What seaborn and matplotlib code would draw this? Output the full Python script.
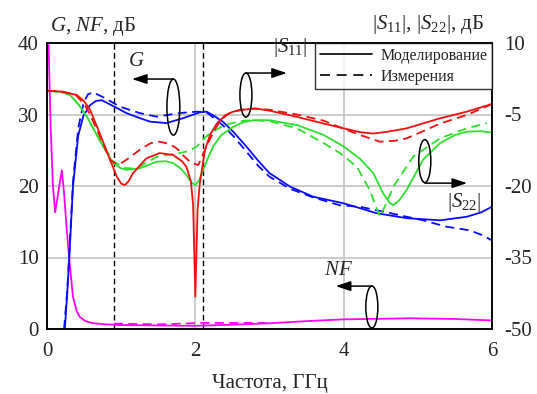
import matplotlib
matplotlib.use("Agg")
import matplotlib.pyplot as plt
from matplotlib.patches import Ellipse
from matplotlib.lines import Line2D
import seaborn as sns

# ---------------- data ----------------
# Gain G, simulated (blue solid), left axis, dB
g_sim_f = [0.24, 0.27, 0.30, 0.35, 0.42, 0.49, 0.58, 0.66, 0.74, 0.87, 1.07, 1.25, 1.39, 1.61,
           1.84, 2.06, 2.15, 2.24, 2.37, 2.51, 2.69, 2.85, 3.00, 3.28, 3.59, 3.99, 4.22, 4.44,
           4.85, 5.30, 5.66, 5.85, 6.00]
g_sim = [0.0, 4.5, 9.9, 19.9, 27.0, 29.8, 31.3, 31.9, 32.0, 31.3, 30.2, 29.5, 29.0, 28.8,
         29.5, 30.3, 30.4, 29.9, 29.0, 27.6, 25.5, 23.5, 21.8, 19.9, 18.5, 17.6, 16.9, 16.2,
         15.5, 15.2, 15.7, 16.3, 17.1]
# Gain G, measured (blue dashed)
g_meas_f = [0.23, 0.27, 0.30, 0.35, 0.42, 0.49, 0.55, 0.62, 0.80, 0.98, 1.25, 1.48, 1.79, 2.02,
            2.15, 2.24, 2.37, 2.51, 2.69, 2.85, 3.00, 3.28, 3.59, 3.95, 4.22, 4.63, 5.07, 5.39,
            5.70, 5.85, 6.00]
g_meas = [0.0, 5.0, 10.5, 20.5, 28.0, 31.5, 32.8, 33.1, 32.2, 31.1, 30.2, 29.7, 30.2, 30.4,
          30.3, 29.6, 28.5, 27.0, 24.8, 22.8, 21.3, 19.6, 18.4, 17.3, 17.1, 16.2, 15.2, 14.3,
          13.8, 13.2, 12.4]
# Noise figure NF, simulated (magenta solid), left axis
nf_sim_f = [0.0, 0.02, 0.05, 0.08, 0.11, 0.15, 0.20, 0.23, 0.27, 0.31, 0.35, 0.40, 0.44, 0.52,
            0.62, 0.80, 1.00, 1.50, 2.00, 2.50, 3.00, 3.50, 4.00, 4.90, 5.50, 6.00]
nf_sim = [46.0, 40.0, 28.0, 20.0, 16.3, 19.0, 22.2, 19.0, 13.4, 8.7, 4.5, 2.5, 1.7, 1.1,
          0.8, 0.65, 0.55, 0.5, 0.45, 0.6, 0.8, 1.1, 1.35, 1.5, 1.4, 1.2]
# Noise figure NF, measured (magenta dashed)
nf_meas_f = [0.90, 1.20, 1.50, 1.80, 2.10, 2.50, 3.00]
nf_meas = [0.75, 0.7, 0.65, 0.75, 0.85, 0.85, 0.85]
# |S11|, simulated (red solid), right axis
s11_sim_f = [0.0, 0.20, 0.40, 0.50, 0.58, 0.71, 0.85, 0.94, 1.00, 1.05, 1.10, 1.16, 1.34, 1.52,
             1.70, 1.82, 1.88, 1.94, 1.97, 2.00, 2.03, 2.06, 2.13, 2.20, 2.29, 2.40, 2.51, 2.65,
             2.80, 3.00, 3.37, 3.73, 4.00, 4.22, 4.40, 4.60, 4.85, 5.30, 5.66, 6.00]
s11_sim = [0.0, -0.2, -0.9, -2.2, -4.0, -8.9, -14.5, -18.0, -19.5, -19.8, -19.0, -17.3, -14.2, -13.1,
           -13.5, -14.8, -16.0, -19.0, -24.0, -43.2, -25.0, -19.5, -12.4, -9.2, -6.9, -5.2, -4.4, -4.0,
           -3.7, -4.2, -5.5, -6.9, -7.9, -8.7, -9.0, -8.6, -7.9, -5.8, -4.4, -2.8]
# |S11|, measured (red dashed)
s11_meas_f = [0.0, 0.20, 0.38, 0.50, 0.58, 0.71, 0.85, 0.92, 0.98, 1.10, 1.25, 1.40, 1.52, 1.65,
              1.75, 1.85, 1.95, 2.04, 2.10, 2.15, 2.25, 2.34, 2.45, 2.60, 2.80, 3.00, 3.37, 3.73,
              4.00, 4.22, 4.49, 4.70, 4.85, 5.07, 5.30, 5.66, 6.00]
s11_meas = [0.0, -0.2, -0.8, -2.8, -5.0, -9.5, -14.5, -15.2, -15.4, -14.2, -12.4, -11.0, -10.7, -11.2,
            -12.1, -13.8, -15.2, -15.6, -13.5, -11.7, -8.5, -6.2, -4.8, -4.0, -3.8, -4.0, -5.0, -6.3,
            -8.0, -9.3, -10.7, -10.5, -10.0, -8.5, -6.9, -5.1, -2.8]
# |S22|, simulated (green solid), right axis
s22_sim_f = [0.0, 0.20, 0.31, 0.42, 0.54, 0.71, 0.89, 1.00, 1.07, 1.25, 1.48, 1.60, 1.70, 1.80,
             1.88, 1.95, 2.00, 2.05, 2.09, 2.16, 2.24, 2.35, 2.51, 2.65, 2.78, 3.00, 3.37, 3.73,
             4.00, 4.22, 4.40, 4.53, 4.62, 4.67, 4.75, 4.85, 5.07, 5.30, 5.50, 5.66, 5.85, 6.00]
s22_sim = [0.0, -0.3, -0.9, -2.8, -5.5, -10.4, -15.2, -16.3, -16.6, -16.3, -14.9, -14.8, -15.2, -16.3,
           -17.7, -19.3, -19.8, -18.8, -17.3, -14.5, -11.7, -9.3, -7.6, -6.6, -6.2, -6.2, -7.2, -9.3,
           -11.7, -14.3, -17.3, -21.5, -23.5, -24.0, -23.0, -20.8, -14.5, -11.0, -9.3, -8.6, -8.5, -8.8]
# |S22|, measured (green dashed)
s22_meas_f = [0.0, 0.20, 0.31, 0.42, 0.54, 0.71, 0.89, 1.05, 1.20, 1.35, 1.48, 1.65, 1.79, 1.92,
              2.02, 2.10, 2.20, 2.35, 2.47, 2.65, 2.78, 3.00, 3.37, 3.73, 3.95, 4.18, 4.35, 4.44,
              4.49, 4.58, 4.67, 4.94, 5.30, 5.66, 5.93]
s22_meas = [0.0, -0.3, -0.9, -2.8, -5.5, -10.4, -14.8, -16.2, -16.4, -15.0, -13.9, -13.4, -13.1, -12.6,
            -11.7, -10.3, -8.9, -7.6, -6.9, -6.3, -6.2, -6.4, -7.9, -11.0, -13.1, -16.0, -20.8, -24.5,
            -26.4, -23.5, -20.1, -13.8, -10.0, -7.9, -6.8]
# band edges (vertical dashed markers), GHz
band_edges = [0.91, 2.11]

x_ticks = [0, 2, 4, 6]
left_ticks = [0, 10, 20, 30, 40]
right_ticks = [-50, -35, -20, -5, 10]

legend_labels = ["Моделирование", "Измерения"]

# ---------------- style ----------------
sns.set_style("white")
plt.rcParams["font.family"] = ["Liberation Serif", "DejaVu Serif"]
plt.rcParams["mathtext.fontset"] = "custom"
plt.rcParams["mathtext.rm"] = "Liberation Serif"
plt.rcParams["mathtext.it"] = "Liberation Serif:italic"
plt.rcParams["mathtext.bf"] = "Liberation Serif:bold"
plt.rcParams["axes.unicode_minus"] = False

BLUE = "#0a0aff"
RED = "#f01010"
GREEN = "#2ee02e"
MAGENTA = "#ff00ff"
LW = 1.3
DASH = (5, 3)
FS = 15

fig = plt.figure(figsize=(5.37, 3.94), dpi=100)
ax = fig.add_axes([47 / 537, 1 - 329 / 394, 445 / 537, 286 / 394])
ax2 = ax.twinx()
ax2.patch.set_visible(False)

# grid (left axis)
ax.set_xlim(0, 6)
ax.set_ylim(0, 40)
ax.set_xticks(x_ticks)
ax.set_yticks(left_ticks)
ax.grid(True, color="#c4c4c4", lw=1.2)
ax.set_axisbelow(True)

for xe in band_edges:
    ax.axvline(xe, color="black", lw=1.0, dashes=(4, 2.5))

def draw(a, xs, ys, color, dashed):
    kw = dict(color=color, lw=LW, ax=a, estimator=None, sort=False, legend=False)
    line = sns.lineplot(x=xs, y=ys, **kw)
    if dashed:
        line.lines[-1].set_dashes(DASH)

draw(ax, nf_sim_f, nf_sim, MAGENTA, False)
draw(ax, nf_meas_f, nf_meas, MAGENTA, True)
draw(ax, g_sim_f, g_sim, BLUE, False)
draw(ax, g_meas_f, g_meas, BLUE, True)

ax2.set_ylim(-50, 10)
ax2.set_yticks(right_ticks)
draw(ax2, s22_sim_f, s22_sim, GREEN, False)
draw(ax2, s22_meas_f, s22_meas, GREEN, True)
draw(ax2, s11_sim_f, s11_sim, RED, False)
draw(ax2, s11_meas_f, s11_meas, RED, True)
ax2.set_xlim(0, 6)

for a in (ax, ax2):
    a.set_xlabel("")
    a.set_ylabel("")
    for s in a.spines.values():
        s.set_color("black")
        s.set_linewidth(1.1)
ax.tick_params(axis="both", length=0, labelsize=FS)
ax.tick_params(axis="x", pad=9)
ax.tick_params(axis="y", pad=6)
ax2.tick_params(axis="y", length=0, labelsize=FS, pad=9)

ax.set_xlabel("Частота, ГГц", fontsize=FS, labelpad=10)
fig.text(50 / 537, 1 - 26 / 394, "$G$, $NF$, дБ", fontsize=FS, ha="left", va="center")
fig.text(428 / 537, 1 - 25 / 394, "$|S_{11}|$, $|S_{22}|$, дБ", fontsize=FS, ha="center", va="center")

# legend
handles = [Line2D([], [], color="black", lw=1.2),
           Line2D([], [], color="black", lw=1.2, dashes=(6, 4))]
leg = ax2.legend(handles, legend_labels, loc="upper right", borderaxespad=0,
                 fontsize=11.5, handlelength=3.3, frameon=True, fancybox=False,
                 borderpad=0.3, labelspacing=0.3, handletextpad=0.5)
leg.get_frame().set_edgecolor("black")
leg.get_frame().set_linewidth(1.0)

# annotation ellipses + arrows (axes fraction coordinates)
def marker(cx, cy, w, h, start, end):
    ax2.add_patch(Ellipse((cx, cy), w, h, transform=ax2.transAxes, fill=False,
                          edgecolor="black", lw=1.1, zorder=5))
    ax2.annotate("", xy=end, xytext=start, xycoords="axes fraction",
                 textcoords="axes fraction",
                 arrowprops=dict(arrowstyle="-|>,head_length=0.9,head_width=0.3",
                                 color="black", lw=1.1, shrinkA=0, shrinkB=0), zorder=5)

marker(0.284, 0.776, 0.029, 0.196, (0.284, 0.874), (0.191, 0.874))
marker(0.447, 0.818, 0.027, 0.154, (0.447, 0.895), (0.539, 0.895))
marker(0.849, 0.587, 0.027, 0.150, (0.849, 0.510), (0.944, 0.510))
marker(0.730, 0.077, 0.027, 0.147, (0.730, 0.150), (0.649, 0.150))

ax2.text(0.200, 0.934, "$G$", transform=ax2.transAxes, fontsize=FS, ha="center", va="center")
ax2.text(0.546, 0.983, "$|S_{11}|$", transform=ax2.transAxes, fontsize=FS, ha="center", va="center")
ax2.text(0.937, 0.441, "$|S_{22}|$", transform=ax2.transAxes, fontsize=FS, ha="center", va="center")
ax2.text(0.654, 0.206, "$NF$", transform=ax2.transAxes, fontsize=FS, ha="center", va="center")

fig.savefig("out.png", dpi=100)
